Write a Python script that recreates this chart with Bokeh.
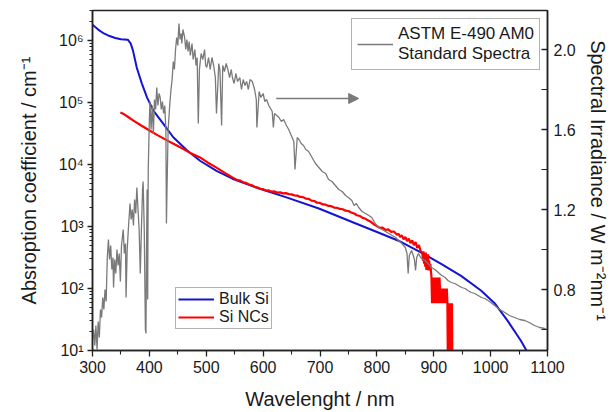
from bokeh.plotting import figure
from bokeh.models import (LinearAxis, Range1d, FixedTicker, CustomJSTickFormatter, PrintfTickFormatter,
                          Legend, LegendItem, Arrow, NormalHead, LinearScale)
from bokeh.embed import file_html
from bokeh.resources import INLINE

# ---------------- data ----------------
# ASTM E-490 AM0 spectrum (W m^-2 nm^-1), right axis
irr_wl = [300, 302, 304, 306, 308, 310, 312, 314, 316, 318, 320, 322, 324, 326, 328, 330, 332, 334, 336, 337,
          339, 341, 343, 345, 347, 349, 351, 354, 356, 358, 359, 361, 363, 366, 368, 370, 372, 374, 376, 378,
          380, 382, 384, 386, 388, 389, 391, 393, 394, 395, 396, 397, 398, 400, 401, 403, 405, 407, 409, 411,
          413, 415, 417, 419, 421, 423, 425, 427, 429, 430, 431, 433, 436, 438, 440, 442, 444, 446, 448, 450,
          452, 454, 456, 457, 459, 462, 464, 466, 468, 470, 472, 475, 477, 480, 482, 484, 486, 488, 491, 494,
          497, 499, 501, 504, 507, 510, 513, 516, 518, 520, 522, 524, 527, 529, 532, 535, 538, 541, 544, 546,
          549, 552, 555, 559, 562, 565, 568, 571, 574, 577, 581, 585, 588, 589, 591, 593, 596, 600, 603, 606,
          610, 614, 616, 618, 620, 624, 628, 632, 636, 641, 645, 648, 651, 654, 656, 658, 660, 663, 667, 671,
          675, 680, 686, 692, 698, 704, 710, 715, 721, 727, 733, 739, 745, 750, 756, 760, 764, 768, 774, 780,
          786, 791, 797, 803, 809, 815, 821, 827, 833, 838, 844, 850, 853, 855, 857, 861, 864, 866, 868, 870,
          873, 877, 881, 885, 890, 896, 902, 908, 914, 920, 925, 931, 937, 943, 949, 955, 960, 966, 972, 978,
          984, 990, 998, 1007, 1016, 1025, 1033, 1042, 1051, 1060, 1068, 1077, 1086, 1095, 1100]
irr_val = [0.55, 0.60, 0.52, 0.62, 0.50, 0.64, 0.56, 0.70, 0.66, 0.76, 0.70, 0.80, 0.74, 0.96, 1.05, 0.95, 1.02, 0.90, 0.96, 0.81,
           0.95, 0.88, 1.00, 0.92, 0.98, 0.84, 1.02, 1.10, 0.98, 1.03, 0.76, 1.00, 1.10, 1.23, 1.15, 1.20, 1.12, 1.25, 1.18, 1.31,
           1.20, 1.10, 0.88, 1.10, 1.30, 1.34, 1.10, 0.60, 0.58, 1.00, 1.30, 0.75, 1.40, 1.65, 1.74, 1.60, 1.72, 1.58, 1.75, 1.70,
           1.81, 1.72, 1.78, 1.76, 1.70, 1.74, 1.68, 1.72, 1.60, 1.13, 1.30, 1.60, 1.73, 1.80, 1.85, 1.94, 1.90, 2.00, 2.06, 2.02,
           2.13, 2.05, 2.08, 2.03, 2.10, 2.06, 2.00, 2.05, 1.99, 2.04, 1.97, 2.03, 1.95, 2.00, 1.92, 1.96, 1.63, 1.90, 1.98, 1.95,
           2.00, 1.92, 1.91, 1.96, 1.90, 1.96, 1.92, 1.86, 1.68, 1.80, 1.93, 1.90, 1.62, 1.92, 1.89, 1.93, 1.90, 1.86, 1.90, 1.86,
           1.83, 1.88, 1.84, 1.86, 1.80, 1.85, 1.82, 1.84, 1.80, 1.85, 1.84, 1.80, 1.75, 1.61, 1.70, 1.79, 1.76, 1.78, 1.74, 1.75,
           1.72, 1.70, 1.69, 1.61, 1.68, 1.67, 1.66, 1.64, 1.65, 1.62, 1.60, 1.58, 1.56, 1.54, 1.40, 1.48, 1.56, 1.55, 1.53, 1.52,
           1.50, 1.49, 1.46, 1.43, 1.41, 1.39, 1.38, 1.35, 1.34, 1.32, 1.30, 1.29, 1.27, 1.26, 1.245, 1.22, 1.23, 1.21, 1.19, 1.18,
           1.17, 1.16, 1.13, 1.11, 1.10, 1.09, 1.08, 1.07, 1.06, 1.045, 1.03, 1.01, 0.98, 0.88, 0.97, 0.995, 0.97, 0.95, 0.895, 0.96,
           0.98, 0.96, 0.95, 0.945, 0.93, 0.91, 0.90, 0.885, 0.87, 0.86, 0.845, 0.835, 0.83, 0.82, 0.81, 0.805, 0.795, 0.785, 0.78, 0.77,
           0.76, 0.755, 0.74, 0.72, 0.70, 0.685, 0.67, 0.66, 0.65, 0.645, 0.635, 0.62, 0.61, 0.605, 0.60]

# Bulk Si absorption coefficient (cm^-1), left axis
bulk_wl = [300, 310, 320, 330, 340, 350, 362, 367, 371, 378, 387, 396, 407, 424, 442, 466, 489, 518, 546, 593,
           641, 698, 763, 798, 838, 878, 913, 948, 983, 1007, 1030, 1053, 1063, 1070]
bulk_alpha = [1.8e6, 1.5e6, 1.3e6, 1.18e6, 1.1e6, 1.05e6, 1.03e6, 9.0e5, 7.0e5, 3.6e5, 2.0e5, 1.2e5, 7.4e4, 4.6e4, 2.75e4,
              1.7e4, 1.15e4, 7900, 5900, 4100, 2950, 1950, 1120, 830, 590, 380, 250, 160, 93, 58, 30, 14.5, 10, 7]

# Si NCs absorption coefficient (cm^-1), left axis
nc_wl = [349, 355, 362, 372, 385, 401, 415, 431, 445, 459, 474, 489, 503, 518, 532, 546, 555, 560, 565, 570,
         575, 580, 585, 590, 595, 600, 605, 610, 615, 620, 625, 630, 635, 640, 645, 650, 655, 660, 665, 670,
         675, 680, 685, 690, 695, 700, 705, 710, 715, 720, 725, 730, 735, 740, 745, 750, 755, 760, 765, 770,
         775, 780, 785, 790, 795, 800, 805, 810, 815, 820, 825, 830, 835, 838, 841, 844, 847, 850, 853, 856,
         859, 862, 865, 868, 871, 874, 877, 880, 881, 882, 883, 884, 885, 886, 887, 888, 889, 890, 891, 892,
         893, 894, 895, 896, 897, 898, 899, 900, 901, 902, 903, 904, 905, 906, 907, 908, 909, 910, 911, 912,
         913, 914, 915, 916, 917, 918, 919, 920, 921, 922, 923, 924, 925, 926, 927, 928, 929, 930, 931, 932, 933]
nc_alpha = [69000, 65000, 59000, 51000, 43000, 35000, 29500, 24500, 21000, 18000, 15000, 13000, 10700, 8900, 7400, 6200, 5600, 5500, 5150, 5050,
            4750, 4650, 4350, 4250, 4050, 4000, 3800, 3820, 3650, 3680, 3520, 3550, 3420, 3450, 3330, 3300, 3180, 3150, 3000, 2980,
            2820, 2800, 2620, 2580, 2420, 2400, 2270, 2250, 2150, 2130, 2020, 2000, 1920, 1900, 1800, 1780, 1680, 1620, 1520, 1480,
            1380, 1330, 1250, 1180, 1080, 1020, 950, 960, 880, 900, 820, 830, 740, 760, 680, 720, 620, 680, 580, 640,
            540, 600, 500, 560, 450, 500, 400, 380, 282, 398, 251, 355, 224, 380, 200, 316, 200, 355, 195, 282,
            195, 251, 195, 151, 58, 151, 58, 151, 58, 151, 58, 151, 58, 151, 58, 151, 58, 151, 100, 58,
            100, 58, 100, 58, 100, 58, 100, 58, 100, 58, 100, 58, 3, 58, 3, 58, 3, 58, 3, 58, 3]

x_ticks = [300, 400, 500, 600, 700, 800, 900, 1000, 1100]
x_minor = [350, 450, 550, 650, 750, 850, 950, 1050]
y_ticks = [10, 100, 1000, 10000, 100000, 1000000]
r_ticks = [0.8, 1.2, 1.6, 2.0]
r_minor = [0.6, 1.0, 1.4, 1.8]

arrow_x = [623, 768]
arrow_y = 1.755

# ---------------- style ----------------
FONT = "Liberation Sans"
TXT = "#1a1a1a"
AX = "#222222"
GRAY = "#7a7a7a"

p = figure(width=611, height=412, x_range=Range1d(300, 1100), y_range=Range1d(10, 3.05e6),
           y_axis_type="log", output_backend="svg", toolbar_location=None,
           min_border_left=92, min_border_right=61, min_border_top=10, min_border_bottom=62)
p.extra_y_ranges = {"irr": Range1d(0.495, 2.195)}
p.extra_y_scales = {"irr": LinearScale()}
p.xgrid.visible = False
p.ygrid.visible = False
p.outline_line_color = AX
p.outline_line_width = 1.5
p.background_fill_color = "white"
p.border_fill_color = "white"

blue = p.line(bulk_wl, bulk_alpha, line_color="#1414d2", line_width=2)
red = p.line(nc_wl, nc_alpha, line_color="#ff0000", line_width=2.2)
gray = p.line(irr_wl, irr_val, y_range_name="irr", line_color=GRAY, line_width=1.3)

right = LinearAxis(y_range_name="irr", ticker=FixedTicker(ticks=r_ticks, minor_ticks=r_minor),
                   formatter=PrintfTickFormatter(format="%.1f"))
p.add_layout(right, "right")

xax = p.xaxis[0]
yax = p.yaxis[0]
xax.ticker = FixedTicker(ticks=x_ticks, minor_ticks=x_minor)
y_minor = [m * d for d in y_ticks[:-1] for m in range(2, 10)] + [2e6, 3e6]
yax.ticker = FixedTicker(ticks=y_ticks, minor_ticks=y_minor)
yax.formatter = CustomJSTickFormatter(code="""
const s = {'0':'\u2070','1':'\u00b9','2':'\u00b2','3':'\u00b3','4':'\u2074','5':'\u2075','6':'\u2076','7':'\u2077','8':'\u2078','9':'\u2079','-':'\u207b'};
const e = Math.round(Math.log10(tick));
return '10' + String(e).split('').map(c => s[c]).join('');
""")

for ax in [xax, yax, right]:
    ax.axis_line_width = 1.5
    ax.axis_line_color = AX
    ax.major_tick_line_color = AX
    ax.minor_tick_line_color = AX
    ax.major_tick_line_width = 1.3
    ax.minor_tick_line_width = 1.1
    ax.major_label_text_font = FONT
    ax.major_label_text_font_size = "16px"
    ax.major_label_text_color = TXT
    ax.axis_label_text_font = FONT
    ax.axis_label_text_font_size = "20px"
    ax.axis_label_text_font_style = "normal"
    ax.axis_label_text_color = TXT

xax.major_tick_in = 0; xax.major_tick_out = 6
xax.minor_tick_in = 0; xax.minor_tick_out = 4
xax.major_label_standoff = 4
xax.axis_label = "Wavelenght / nm"
xax.axis_label_standoff = 12

yax.major_tick_in = 0; yax.major_tick_out = 5
yax.minor_tick_in = 0; yax.minor_tick_out = 3
yax.major_label_standoff = 4
yax.axis_label = "Absroption coefficient / cm\u207b\u00b9"
yax.axis_label_standoff = 16

right.major_tick_in = 6; right.major_tick_out = 0
right.minor_tick_in = 6; right.minor_tick_out = 0
right.major_label_standoff = 6
right.axis_label = "Spectral Irradiance / W m\u207b\u00b2nm\u207b\u00b9"
right.axis_label_standoff = 8

def style_legend(leg, pad, size):
    leg.label_text_font = FONT
    leg.label_text_font_size = size
    leg.label_text_color = TXT
    leg.border_line_color = "#666666"
    leg.border_line_width = 1
    leg.background_fill_color = "white"
    leg.background_fill_alpha = 1
    leg.padding = pad
    leg.margin = 0
    leg.glyph_width = 36
    leg.label_standoff = 5

leg_spec = Legend(items=[LegendItem(label="ASTM E-490 AM0\nStandard Spectra", renderers=[gray])],
                  location=(259, 280))
style_legend(leg_spec, 5, "17px")
p.add_layout(leg_spec)

leg_si = Legend(items=[LegendItem(label="Bulk Si", renderers=[blue]),
                       LegendItem(label="Si NCs", renderers=[red])],
                location=(83, 21))
style_legend(leg_si, 2, "16px")
leg_si.spacing = 0
leg_si.label_height = 18
leg_si.glyph_height = 18
p.add_layout(leg_si)

p.add_layout(Arrow(end=NormalHead(size=10, fill_color=GRAY, line_color=GRAY),
                   x_start=arrow_x[0], y_start=arrow_y, x_end=arrow_x[1], y_end=arrow_y,
                   y_range_name="irr", line_color=GRAY, line_width=1.3))

open("out.html", "w").write(file_html(p, INLINE))
